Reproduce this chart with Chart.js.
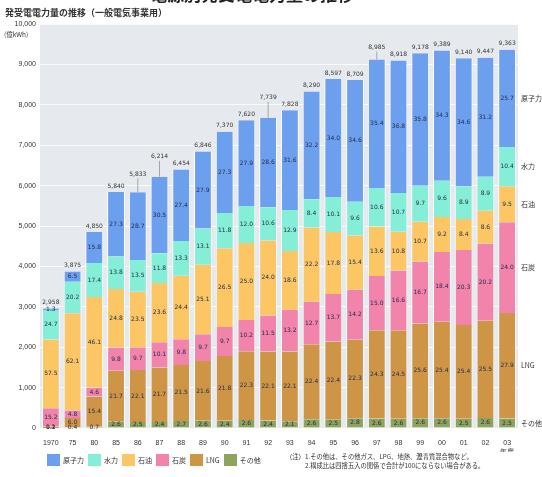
<!DOCTYPE html>
<html lang="ja">
<head>
<meta charset="utf-8">
<script src="https://cdn.jsdelivr.net/npm/chart.js@4"></script>
<style>
  body { margin: 0; background: #fff; font-family: "Noto Sans CJK JP", "Noto Sans", sans-serif; }
  #wrap { position: relative; width: 542px; height: 477px; overflow: hidden; }
  #chart { position: absolute; left: 0; top: 0; }
  .txt { position: absolute; color: #333; white-space: nowrap; }
  #head { left: 150px; top: -19px; font-size: 17px; font-weight: bold; color: #222; }
  #title { left: 5px; top: 6px; font-size: 9px; font-weight: bold; }
  #unit { left: 4px; top: 29px; font-size: 6.5px; }
  #legend { position: absolute; left: 47px; top: 454px; display: flex; align-items: center; }
  .item { display: flex; align-items: center; font-size: 7px; color: #333; margin-right: 4px; }
  .box { width: 13px; height: 12px; margin-right: 3px; }
  #note { left: 286px; top: 452px; font-size: 6.3px; line-height: 9px; }
</style>
</head>
<body>
<div id="wrap">
  <canvas id="chart" width="542" height="477"></canvas>
  <div class="txt" id="head">電源別発受電電力量の推移</div>
  <div class="txt" id="title">発受電電力量の推移（一般電気事業用）</div>
  <div class="txt" id="unit">(億kWh)</div>
  <div id="legend"></div>
  <div class="txt" id="note">（注）1.その他は、その他ガス、LPG、地熱、瀝青質混合物など。<br>　　　2.構成比は四捨五入の関係で合計が100にならない場合がある。</div>
</div>
<script>
// 発受電電力量の推移 data (億kWh, share in %)
const years = ['1970', '75', '80', '85', '86', '87', '88', '89', '90', '91', '92',
  '93', '94', '95', '96', '97', '98', '99', '00', '01', '02', ['03', '年度']];

const totals = [2958, 3875, 4850, 5840, 5833, 6214, 6454, 6846, 7370, 7620, 7739,
  7828, 8290, 8597, 8709, 8985, 8918, 9178, 9389, 9140, 9447, 9363];

// shares by source (bottom of the stack first)
const otherShare   = [0.1, 0.4, 0.7, 2.6, 2.5, 2.4, 2.7, 2.6, 2.4, 2.6, 2.4, 2.1, 2.6, 2.5, 2.8, 2.6, 2.6, 2.6, 2.6, 2.5, 2.6, 2.5];
const lngShare     = [1.2, 6.0, 15.4, 21.7, 22.1, 21.7, 21.5, 21.6, 21.8, 22.3, 22.1, 22.1, 22.4, 22.4, 22.3, 24.3, 24.5, 25.6, 25.4, 25.4, 25.5, 27.9];
const coalShare    = [15.2, 4.8, 4.6, 9.8, 9.7, 10.1, 9.8, 9.7, 9.7, 10.2, 11.5, 13.2, 12.7, 13.7, 14.2, 15.0, 16.6, 16.7, 18.4, 20.3, 20.2, 24.0];
const oilShare     = [57.5, 62.1, 46.1, 24.8, 23.5, 23.6, 24.4, 25.1, 26.5, 25.0, 24.0, 18.6, 22.2, 17.8, 15.4, 13.6, 10.8, 10.7, 9.2, 8.4, 8.6, 9.5];
const hydroShare   = [24.7, 20.2, 17.4, 13.8, 13.5, 11.8, 13.3, 13.1, 11.8, 12.0, 10.6, 12.9, 8.4, 10.1, 9.6, 10.6, 10.7, 9.7, 9.6, 8.9, 8.9, 10.4];
const nuclearShare = [1.3, 6.5, 15.8, 27.3, 28.7, 30.5, 27.4, 27.9, 27.3, 27.9, 28.6, 31.6, 32.2, 34.0, 34.6, 35.4, 36.8, 35.8, 34.3, 34.6, 31.2, 25.7];

const sources = ['その他', 'LNG', '石炭', '石油', '水力', '原子力'];
const shares = [otherShare, lngShare, coalShare, oilShare, hydroShare, nuclearShare];
const colors = ['#8ea35c', '#cf9546', '#f283ab', '#fbc663', '#84efd6', '#6d9fef'];

// total labels that sit higher with a leader line (index -> extra lift px)
const lifted = { 4: 12, 5: 14, 10: 14, 15: 6 };

const datasets = sources.map((name, k) => ({
  label: name,
  data: totals.map((t, i) => t * shares[k][i] / 100),
  backgroundColor: colors[k],
  borderColor: '#ffffff',
  borderWidth: { left: 1, right: 1, top: 0, bottom: 0 },
  borderSkipped: false,
  categoryPercentage: 1.0,
  barPercentage: 0.82
}));

// legend, top source first
const legend = document.getElementById('legend');
for (let k = sources.length - 1; k >= 0; k--) {
  const item = document.createElement('div');
  item.className = 'item';
  item.innerHTML = '<div class="box" style="background:' + colors[k] + '"></div>' + sources[k];
  legend.appendChild(item);
}

const backdrop = {
  id: 'backdrop',
  beforeDraw(chart) {
    const a = chart.chartArea;
    const c = chart.ctx;
    c.save();
    c.fillStyle = '#e6eaee';
    c.fillRect(a.left, a.top, a.right - a.left, a.bottom - a.top);
    c.restore();
  }
};

const barText = {
  id: 'barText',
  afterDatasetsDraw(chart) {
    const c = chart.ctx;
    const n = chart.data.datasets.length;
    c.save();
    c.textAlign = 'center';
    c.textBaseline = 'middle';
    c.font = '6px "DejaVu Sans", sans-serif';
    c.fillStyle = '#1d2a4a';
    for (let k = 0; k < n; k++) {
      const meta = chart.getDatasetMeta(k);
      meta.data.forEach((bar, i) => {
        c.fillText(shares[k][i].toFixed(1), bar.x, (bar.y + bar.base) / 2);
      });
    }
    // totals on top
    const top = chart.getDatasetMeta(n - 1).data;
    c.fillStyle = '#333';
    top.forEach((bar, i) => {
      const lift = lifted[i] || 0;
      const y = bar.y - 6 - lift;
      c.fillText(totals[i].toLocaleString('en-US'), bar.x, y);
      if (lift) {
        c.strokeStyle = '#888';
        c.lineWidth = 0.7;
        c.beginPath();
        c.moveTo(bar.x, y + 4);
        c.lineTo(bar.x, bar.y);
        c.stroke();
      }
    });
    // source names beside the last bar
    c.textAlign = 'left';
    c.font = '7px "Noto Sans CJK JP", sans-serif';
    for (let k = 0; k < n; k++) {
      const bar = chart.getDatasetMeta(k).data[totals.length - 1];
      c.fillText(sources[k], chart.chartArea.right + 3, (bar.y + bar.base) / 2);
    }
    c.restore();
  }
};

new Chart(document.getElementById('chart'), {
  type: 'bar',
  data: { labels: years, datasets: datasets },
  options: {
    responsive: false,
    animation: false,
    layout: { padding: { top: 24, right: 24, bottom: 25, left: 0 } },
    plugins: { legend: { display: false }, tooltip: { enabled: false } },
    scales: {
      x: {
        stacked: true,
        grid: { display: false },
        border: { display: false },
        ticks: { font: { size: 7 }, color: '#333', maxRotation: 0, autoSkip: false, padding: 3 },
        afterFit: s => { s.height = 24; }
      },
      y: {
        stacked: true,
        min: 0,
        max: 10000,
        ticks: { stepSize: 1000, font: { size: 7 }, color: '#333', padding: 4,
          callback: v => v.toLocaleString('en-US') },
        grid: { color: 'rgba(255,255,255,0.8)', drawTicks: false },
        border: { display: false },
        afterFit: s => { s.width = 40; }
      }
    }
  },
  plugins: [backdrop, barText]
});
</script>
</body>
</html>
